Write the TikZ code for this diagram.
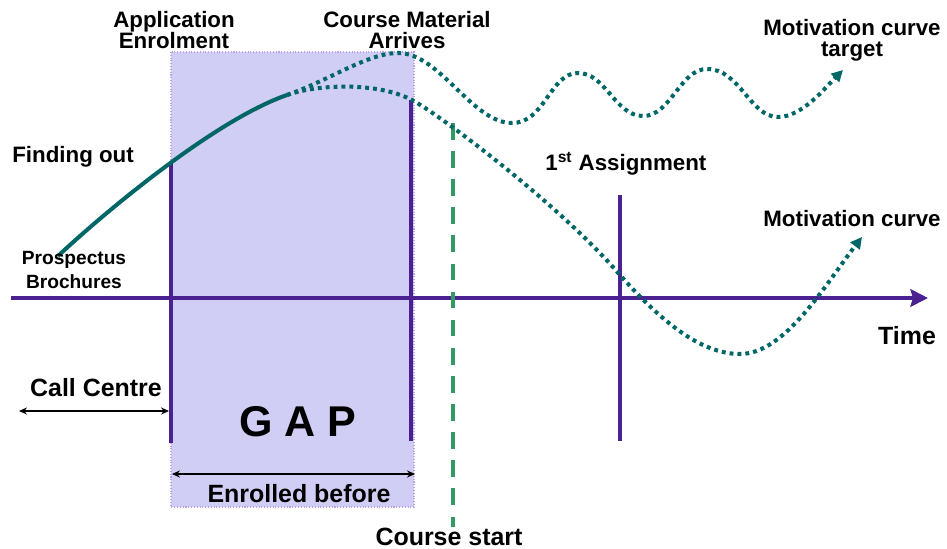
\documentclass[tikz,border=0pt]{standalone}
\usepackage{fontspec}
\setmainfont{Liberation Sans}
\usetikzlibrary{arrows.meta,positioning}
\definecolor{gapfill}{HTML}{D1CEF5}
\definecolor{gapedge}{HTML}{B9A3EE}
\definecolor{plum}{HTML}{4B2090}
\definecolor{motiv}{HTML}{006666}
\definecolor{startgreen}{HTML}{339966}

\begin{document}
\begin{tikzpicture}[x=.02cm,y=-.02cm,
  lbl/.style={font=\bfseries\fontsize{12.7}{11.9}\selectfont,align=center,anchor=base,inner sep=0pt},
  biglbl/.style={font=\bfseries\fontsize{14.2}{14}\selectfont,anchor=base,inner sep=0pt},
  curvedot/.style={motiv,line width=2.3pt,dash pattern=on 2.2pt off 2.3pt,-{Triangle[length=6.5pt,width=6.5pt]}},
  spanarrow/.style={line width=.8pt,{Stealth[length=4.5pt,width=4pt]}-{Stealth[length=4.5pt,width=4pt]}}]
\useasboundingbox (0,0) rectangle (947,548);
% gap box
\draw[fill=gapfill,draw=gapedge,densely dotted,line width=.6pt] (171,52) rectangle (414,507);
% time axis and markers
\coordinate (t0) at (11,298);
\coordinate (t1) at (928,298);
\draw[plum,line width=2.8pt,-{Stealth[length=10pt,width=10pt,inset=1.5pt]}] (t0)--(t1);
\coordinate (enrolT) at (171,162); \coordinate (enrolB) at (171,443);
\coordinate (arrT) at (411,100); \coordinate (arrB) at (411,441);
\coordinate (asgT) at (620,195); \coordinate (asgB) at (620,441);
\coordinate (csT) at (453,123); \coordinate (csB) at (453,527);
\draw[plum,line width=2.2pt] (enrolT)--(enrolB);
\draw[plum,line width=2.2pt] (arrT)--(arrB);
\draw[plum,line width=1.8pt] (asgT)--(asgB);
\draw[startgreen,line width=2.6pt,dash pattern=on 9.5pt off 6.5pt] (csT)--(csB);
% motivation curves
\coordinate (m0) at (58,256);
\coordinate (split) at (287,95);
\draw[motiv,line width=2.3pt] (m0) .. controls (105,212) and (215,120) .. (split);
\draw[curvedot] (split) .. controls (330,80) and (368,53) .. (398,53)
  .. controls (440,53) and (472,123) .. (512,123)
  .. controls (545,123) and (550,73) .. (578,73)
  .. controls (606,73) and (615,116) .. (643,116)
  .. controls (671,116) and (680,69) .. (707,69)
  .. controls (740,69) and (750,117) .. (778,117)
  .. controls (802,117) and (825,88) .. (843,70);
\draw[curvedot] (split) .. controls (318,84) and (378,82) .. (412,100)
  .. controls (440,115) and (560,205) .. (620,275)
  .. controls (660,320) and (700,354) .. (740,354)
  .. controls (785,354) and (825,285) .. (862,237);
% spans
\coordinate (cc0) at (19,411); \coordinate (cc1) at (169,411);
\coordinate (eb0) at (172,474); \coordinate (eb1) at (415,474);
\draw[spanarrow] (cc0)--(cc1);
\draw[spanarrow] (eb0)--(eb1);
% labels
\node[lbl] (appl) at (174,48) {Application\\Enrolment};
\node[lbl] (mat) at (407,48) {Course Material\\Arrives};
\node[lbl,anchor=base west] (find) at (12,162) {Finding out};
\node[lbl,font=\bfseries\fontsize{10.9}{13.6}\selectfont] (prosp) at (74,288) {Prospectus\\Brochures};
\node[biglbl] (call) at (96,396) {Call Centre};
\node[anchor=base,inner sep=0pt,font=\bfseries\fontsize{24.5}{24}\selectfont] (gap) at (298,436) {G A P};
\node[biglbl] (enb) at (299,502) {Enrolled before};
\node[biglbl] (cstart) at (449,545) {Course start};
\node[biglbl] (time) at (907,344) {Time};
\node[lbl,anchor=base west] (asg) at (545,170) {1\textsuperscript{st} Assignment};
\node[lbl] (tgt) at (852,56) {Motivation curve\\target};
\node[lbl] (mc) at (852,226) {Motivation curve};
\end{tikzpicture}
\end{document}
